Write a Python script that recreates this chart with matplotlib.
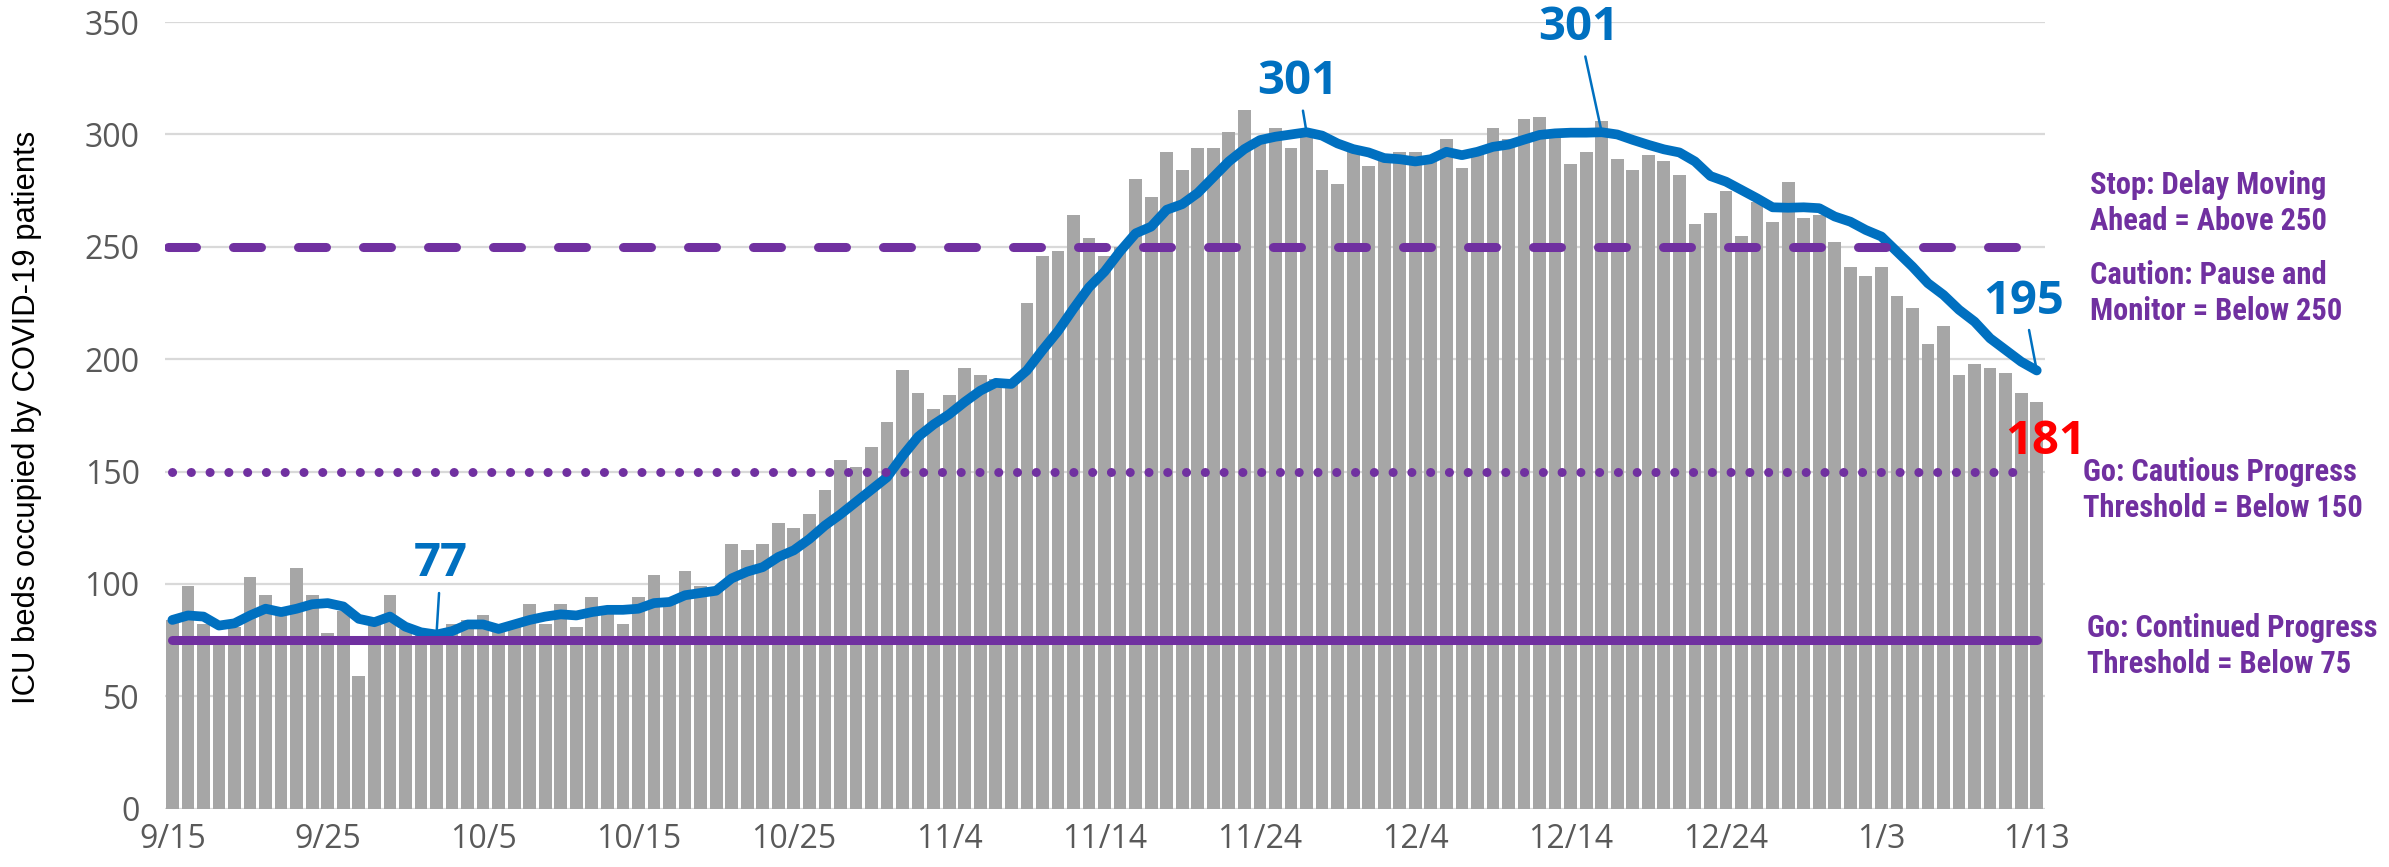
import numpy as np
import matplotlib
matplotlib.use("Agg")
import matplotlib.pyplot as plt

# daily ICU beds occupied by COVID-19 patients, 9/15 .. 1/13
icu_beds = [84, 99, 82, 76, 81, 103, 95, 86, 107, 95,
            78, 88, 59, 85, 95, 80, 78, 78, 82, 84,
            86, 80, 81, 91, 82, 91, 81, 94, 90, 82,
            94, 104, 92, 106, 99, 98, 118, 115, 118, 127,
            125, 131, 142, 155, 152, 161, 172, 195, 185, 178,
            184, 196, 193, 191, 189, 225, 246, 248, 264, 254,
            246, 250, 280, 272, 292, 284, 294, 294, 301, 311,
            298, 303, 294, 300, 284, 278, 292, 286, 290, 292,
            292, 288, 298, 285, 293, 303, 298, 307, 308, 302,
            287, 292, 306, 289, 284, 291, 288, 282, 260, 265,
            275, 255, 270, 261, 279, 263, 264, 252, 241, 237,
            241, 228, 223, 207, 215, 193, 198, 196, 194, 185,
            181]

# rolling average line
avg_line = [84, 86, 85.5, 81.5, 82.5, 86, 89, 87.5, 89, 91,
            91.5, 90, 84.5, 83, 85.5, 81, 78.5, 77.5, 79, 82,
            82, 80, 82, 84, 85.5, 86.5, 86, 87.5, 88.5, 88.5,
            89, 91.5, 92, 95, 96, 97, 102.5, 105.5, 107.5, 112,
            115, 120, 126, 131, 136.5, 142, 147.5, 157, 165.5, 171,
            175.5, 181, 186, 189.5, 189, 195, 204, 212.5, 222.5, 232,
            239, 248, 256, 259, 266.5, 269, 274, 281, 288, 293.5,
            297.5, 299, 300, 301, 299.5, 296, 293.5, 292, 289.5, 289,
            288, 289, 292.3, 290.8, 292.3, 294.5, 295.5, 297.7, 299.8, 300.5,
            300.8, 300.8, 301, 300, 297.6, 295.4, 293.4, 292, 288, 281.5,
            279, 275.3, 271.6, 267.6, 267.4, 267.6, 267.2, 263.5, 261.2, 257.5,
            254.6, 247.9, 241.2, 233.8, 228.6, 222, 216.7, 209.3, 204.1, 198.9,
            195]

tick_labels = ["9/15", "9/25", "10/5", "10/15", "10/25", "11/4", "11/14",
               "11/24", "12/4", "12/14", "12/24", "1/3", "1/13"]

stop_level = 250
caution_level = 150
go_level = 75

callouts = [(17, "77"), (73, "301"), (92, "301"), (120, "195")]

PURPLE = "#7030A0"
BLUE = "#0070C0"
GRAY_BAR = "#A6A6A6"
TICK_GRAY = "#595959"

x = np.arange(len(icu_beds))

fig = plt.figure(figsize=(23.89, 8.67), dpi=100)
ax = fig.add_axes([0.0689, 0.0672, 0.7869, 0.9073])

ax.bar(x, icu_beds, width=0.82, color=GRAY_BAR, zorder=2)
ax.plot(x, avg_line, color=BLUE, lw=7, solid_capstyle="round",
        solid_joinstyle="round", zorder=3)

# threshold lines
ax.plot([x[0] - 0.25, x[-1] - 0.3], [stop_level] * 2, color=PURPLE, lw=6.5,
        dashes=(3.1, 4.1), dash_capstyle="round", zorder=4)
ax.plot([x[0], x[-1] - 1], [caution_level] * 2, color=PURPLE, lw=6.5,
        dashes=(0.01, 2.07), dash_capstyle="round", zorder=4)
ax.plot([x[0], x[-1]], [go_level] * 2, color=PURPLE, lw=6.5,
        solid_capstyle="round", zorder=4)

ax.set_xlim(-0.5, len(icu_beds) - 0.5)
ax.set_ylim(0, 350)
ax.set_yticks(range(0, 351, 50))
ax.set_xticks(x[::10])
ax.set_xticklabels(tick_labels)
ax.yaxis.grid(True, color="#D9D9D9", lw=1.6, zorder=0)
ax.set_axisbelow(True)
for s in ax.spines.values():
    s.set_visible(False)
ax.tick_params(axis="both", length=0, labelsize=23, labelcolor=TICK_GRAY)
ax.tick_params(axis="y", pad=18)
ax.tick_params(axis="x", pad=10)
for lab in ax.get_xticklabels() + ax.get_yticklabels():
    lab.set_family("Open Sans")

fig.text(0.0115, 0.5185, "ICU beds occupied by COVID-19 patients",
         rotation=90, ha="center", va="center", fontsize=22.3,
         family="Liberation Sans", color="black")

# callout labels
offsets = {17: (17.28, 108.9), 73: (72.46, 323.5), 92: (90.54, 347.6), 120: (119.15, 225.9)}
for i, txt in callouts:
    ax.annotate(txt, xy=(i, avg_line[i]), xytext=offsets[i],
                ha="center", va="center", fontsize=34, fontweight="bold",
                family="Open Sans", color=BLUE, annotation_clip=False,
                arrowprops=dict(arrowstyle="-", color=BLUE, lw=1.8,
                                shrinkA=2, shrinkB=0), zorder=5)

ax.text(120.57, 163.2, str(icu_beds[-1]), ha="center", va="center",
        fontsize=34, fontweight="bold", family="Open Sans", color="red",
        clip_on=False, zorder=5)

# right side legend text
side = [(2090, 203, "Stop: Delay Moving\nAhead = Above 250"),
        (2090, 293, "Caution: Pause and\nMonitor = Below 250"),
        (2083, 490, "Go: Cautious Progress\nThreshold = Below 150"),
        (2087, 646, "Go: Continued Progress\nThreshold = Below 75")]
for px, py, txt in side:
    fig.text(px / 2389, 1 - py / 867, txt, ha="left", va="center",
             fontsize=22, fontweight="bold", color=PURPLE,
             family=["Liberation Sans Narrow", "Roboto Condensed", "Roboto"],
             linespacing=1.25)

fig.savefig("out.png", dpi=100)
